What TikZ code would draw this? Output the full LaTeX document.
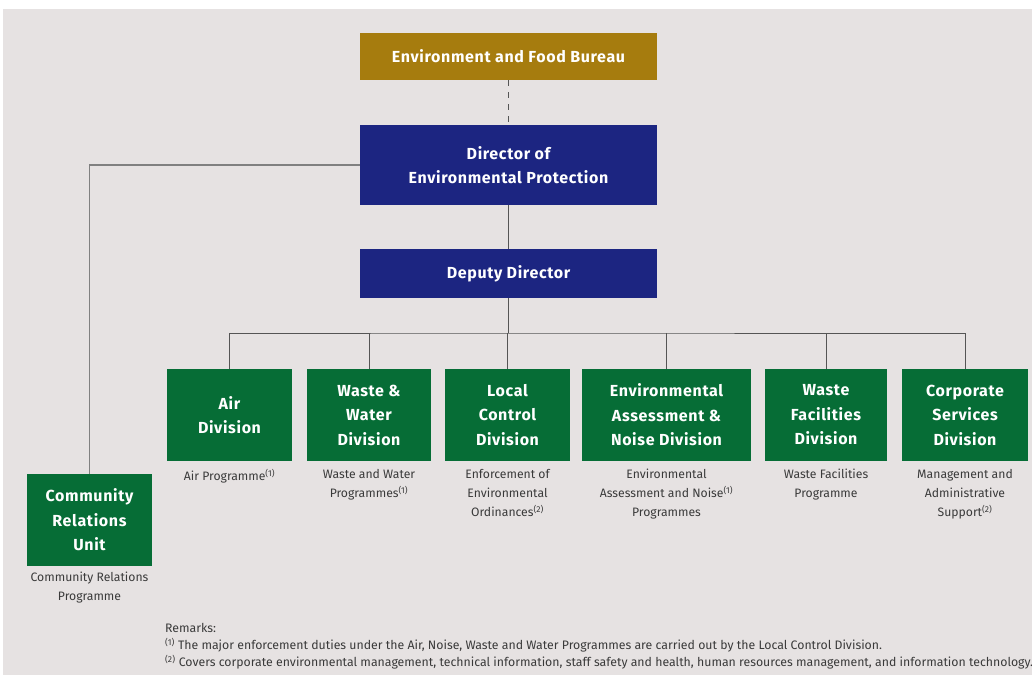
\documentclass[tikz,border=0pt]{standalone}
\usepackage{fontspec}
\setmainfont{Fira Sans}
\definecolor{bg}{HTML}{E6E2E2}
\definecolor{gold}{HTML}{A67C0E}
\definecolor{navy}{HTML}{1C2581}
\definecolor{dgreen}{HTML}{066D36}
\definecolor{txt}{HTML}{3A3A3A}
\definecolor{ln}{HTML}{555555}
\begin{document}
\begin{tikzpicture}[x=1pt,y=-1pt,
  box/.style={inner sep=0pt, text=white, align=center, font=\bfseries\fontsize{16}{24.5}\selectfont\addfontfeature{LetterSpace=4}},
  topbox/.style={box, minimum width=297pt},
  divbox/.style={box, fill=dgreen, minimum height=92pt},
  desc/.style={anchor=north, align=center, text=txt, font=\fontsize{12.2}{19}\selectfont, inner sep=0pt},
  rem/.style={anchor=west, text=txt, font=\fontsize{12.3}{13}\selectfont, inner sep=0pt},
  conn/.style={draw=ln, line width=0.9pt}
]
\useasboundingbox (0,0) rectangle (1032,675);
\fill[white] (0,0) rectangle (1032,675);
\fill[bg] (3,9) rectangle (1032,675);

\node[topbox, fill=gold, minimum height=47pt] (bureau) at (508.5,56.5) {Environment and Food Bureau};
\node[topbox, fill=navy, minimum height=80pt] (director) at (508.5,165) {Director of\\Environmental Protection};
\node[topbox, fill=navy, minimum height=49pt] (deputy) at (508.5,273.5) {Deputy Director};

\node[divbox, minimum width=125pt] (air) at (229.5,415) {Air\\Division};
\node[divbox, minimum width=124pt] (ww) at (369,415) {Waste \&\\Water\\Division};
\node[divbox, minimum width=125pt] (lc) at (507.5,415) {Local\\Control\\Division};
\node[divbox, minimum width=169pt] (ean) at (666.5,415) {Environmental\\Assessment \&\\Noise Division};
\node[divbox, minimum width=122pt] (wf) at (826,415) {Waste\\Facilities\\Division};
\node[divbox, minimum width=126pt] (cs) at (965,415) {Corporate\\Services\\Division};
\node[divbox, minimum width=125pt] (cru) at (89.5,520) {Community\\Relations\\Unit};

\coordinate (bus) at (508.5,333);
\draw[conn, dashed, dash pattern=on 6pt off 6pt] (bureau.south) -- (director.north);
\draw[conn] (director.south) -- (deputy.south |- deputy.north);
\draw[conn] (deputy.south) -- (bus);
\draw[conn, line width=0.6pt] (air.north) |- (bus) -| (cs.north);
\foreach \n in {ww,lc,ean,wf}{\draw[conn, line width=0.7pt] (\n.north) -- (\n.north |- bus);}
\draw[conn, draw=gray, line width=1.6pt] (director.west) -| (cru.north);

\node[desc] (d1) at (229.5,469) {Air Programme\textsuperscript{(1)}};
\node[desc] (d2) at (369,469) {Waste and Water\\Programmes\textsuperscript{(1)}};
\node[desc] (d3) at (507.5,469) {Enforcement of\\Environmental\\Ordinances\textsuperscript{(2)}};
\node[desc] (d4) at (666.5,469) {Environmental\\Assessment and Noise\textsuperscript{(1)}\\Programmes};
\node[desc] (d5) at (826,469) {Waste Facilities\\Programme};
\node[desc] (d6) at (965,469) {Management and\\Administrative\\Support\textsuperscript{(2)}};
\node[desc] (d7) at (89.5,572) {Community Relations\\Programme};

\node[rem] (r0) at (165,628) {Remarks:};
\node[rem] (r1) at (165,645) {\textsuperscript{(1)} The major enforcement duties under the Air, Noise, Waste and Water Programmes are carried out by the Local Control Division.};
\node[rem] (r2) at (165,662) {\textsuperscript{(2)} Covers corporate environmental management, technical information, staff safety and health, human resources management, and information technology.};
\end{tikzpicture}
\end{document}
